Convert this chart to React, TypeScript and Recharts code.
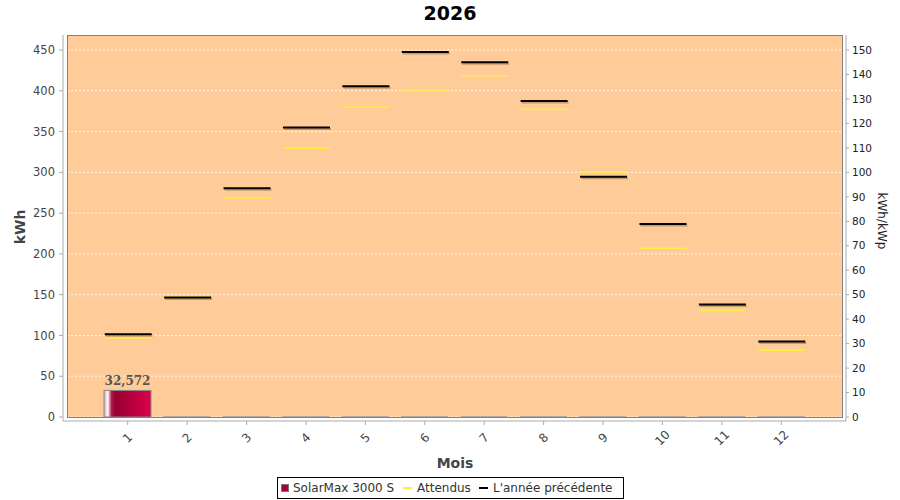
import React from 'react';
import { ComposedChart, Bar, Line, XAxis, YAxis, CartesianGrid, LabelList } from 'recharts';

const months = ['1', '2', '3', '4', '5', '6', '7', '8', '9', '10', '11', '12'];
const production = [32.572, 0, 0, 0, 0, 0, 0, 0, 0, 0, 0, 0];
const expected = [97, 148, 268.5, 329.5, 380, 401, 418.5, 377.5, 300.5, 207, 130.5, 82];
const previousYear = [101.5, 146.5, 280.5, 355, 405.5, 447.5, 435, 387.5, 294.5, 236.5, 138, 92.5];
const leftTicks = [0, 50, 100, 150, 200, 250, 300, 350, 400, 450];
const rightTicks = [0, 10, 20, 30, 40, 50, 60, 70, 80, 90, 100, 110, 120, 130, 140, 150];

const data = months.map((m, i) => ({
  month: m,
  prod: production[i],
  expected: expected[i],
  prev: previousYear[i],
}));

const FONT = '"DejaVu Sans", sans-serif';

const makeMarker = (color: string, sw: number, shadow: boolean) => (props: any) => {
  const { cx, cy, index } = props;
  if (cx == null || cy == null) return <g key={`e-${index}`} />;
  const l = cx - 23;
  const r = cx + 24;
  return (
    <g key={`m-${color}-${index}`}>
      {shadow && (
        <line x1={l + 1} x2={r + 1} y1={cy + 1.5} y2={cy + 1.5} stroke="rgba(80,40,0,0.3)" strokeWidth={sw} />
      )}
      <line x1={l} x2={r} y1={cy} y2={cy} stroke={color} strokeWidth={sw} />
    </g>
  );
};

const BarShape = (props: any) => {
  const { x, y, width, height } = props;
  if (!height || height <= 0.5) {
    return <line x1={x} x2={x + width} y1={y + (height || 0)} y2={y + (height || 0)} stroke="#9a9a9a" strokeWidth={1.5} />;
  }
  return (
    <rect x={x} y={y} width={width} height={height} fill="url(#prodGrad)" stroke="#8a8a8a" strokeWidth={1} />
  );
};

const XTick = (props: any) => {
  const { x, y, payload } = props;
  return (
    <text
      transform={`translate(${x},${y + 11}) rotate(-45)`}
      textAnchor="middle"
      dominantBaseline="central"
      fontSize={12}
      fill="#444"
      fontFamily={FONT}
    >
      {payload.value}
    </text>
  );
};

const BarLabel = (props: any) => {
  const { x, y, width, value } = props;
  if (!value) return null;
  return (
    <text
      x={x + width / 2}
      y={y - 5}
      textAnchor="middle"
      fontSize={12}
      fontWeight="bold"
      fill="#555"
      fontFamily='"DejaVu Serif", serif'
    >
      {Number(value).toFixed(3).replace('.', ',')}
    </text>
  );
};

export default function App() {
  return (
    <div style={{ position: 'absolute', left: 0, top: 0, width: 900, height: 500, background: '#fff', fontFamily: FONT, overflow: 'hidden' }}>
      <div
        style={{
          position: 'absolute', left: 67, top: 35, width: 776, height: 383,
          boxSizing: 'border-box', background: '#FFCC99',
        }}
      />
      <div style={{ position: 'absolute', left: 0, top: 0, width: 900, height: 26, lineHeight: '26px', textAlign: 'center', fontSize: 19, fontWeight: 'bold', color: '#000' }}>
        2026
      </div>
      <div style={{ position: 'absolute', left: 0, top: 0 }}>
        <ComposedChart width={900} height={500} data={data} margin={{ top: 35, right: 0, bottom: 0, left: 0 }}>
          <defs>
            <linearGradient id="prodGrad" x1="0" y1="0" x2="1" y2="0">
              <stop offset="0" stopColor="#d8a0b0" />
              <stop offset="0.08" stopColor="#ffffff" />
              <stop offset="0.16" stopColor="#b01848" />
              <stop offset="0.24" stopColor="#960032" />
              <stop offset="1" stopColor="#dc004a" />
            </linearGradient>
          </defs>
          <CartesianGrid horizontal vertical={false} stroke="#ffffff" strokeOpacity={0.85} strokeDasharray="2 2" />
          <XAxis
            dataKey="month"
            interval={0}
            padding={{ left: 35, right: 35 }}
            height={79}
            tickSize={4}
            stroke="#aaaaaa"
            tick={<XTick />}
          />
          <YAxis
            domain={[0, 468.4]}
            ticks={leftTicks}
            allowDataOverflow
            padding={{ top: 0, bottom: 4 }}
            width={63}
            tickSize={4}
            tickMargin={4}
            stroke="#aaaaaa"
            tick={{ fill: '#444', fontSize: 11.5, fontFamily: FONT }}
          />
          <YAxis
            yAxisId="right"
            orientation="right"
            domain={[0, 156.13]}
            ticks={rightTicks}
            allowDataOverflow
            padding={{ top: 0, bottom: 4 }}
            width={54}
            tickSize={3}
            tickMargin={3}
            stroke="#aaaaaa"
            tick={{ fill: '#222', fontSize: 10.5, fontFamily: FONT }}
          />
          <Bar dataKey="prod" barSize={47} isAnimationActive={false} shape={<BarShape />}>
            <LabelList dataKey="prod" content={<BarLabel />} />
          </Bar>
          <Line dataKey="expected" stroke="none" isAnimationActive={false} activeDot={false} dot={makeMarker('#ffee44', 1.5, false)} />
          <Line dataKey="prev" stroke="none" isAnimationActive={false} activeDot={false} dot={makeMarker('#000000', 2, true)} />
        </ComposedChart>
      </div>
      <div
        style={{
          position: 'absolute', left: 67, top: 35, width: 776, height: 383,
          boxSizing: 'border-box', border: '1px solid #808080', pointerEvents: 'none',
        }}
      />
      <div style={{ position: 'absolute', left: 20, top: 227, transform: 'translate(-50%,-50%) rotate(-90deg)', fontSize: 14, fontWeight: 'bold', color: '#444', whiteSpace: 'nowrap' }}>
        kWh
      </div>
      <div style={{ position: 'absolute', left: 882, top: 221, transform: 'translate(-50%,-50%) rotate(90deg)', fontSize: 12, color: '#222', whiteSpace: 'nowrap' }}>
        kWh/kWp
      </div>
      <div style={{ position: 'absolute', left: 455, top: 463, transform: 'translate(-50%,-50%)', fontSize: 14, fontWeight: 'bold', color: '#444', whiteSpace: 'nowrap' }}>
        Mois
      </div>
      <div style={{ position: 'absolute', left: 277, top: 477, width: 347, height: 22, boxSizing: 'border-box', border: '1px solid #000', background: '#fff', fontSize: 12, color: '#333' }}>
        <div style={{ position: 'absolute', left: 3, top: 6, width: 8, height: 8, boxSizing: 'border-box', background: '#a8003c', border: '1px solid #777' }} />
        <div style={{ position: 'absolute', left: 15, top: 0, lineHeight: '20px', whiteSpace: 'nowrap' }}>SolarMax 3000 S</div>
        <div style={{ position: 'absolute', left: 125, top: 9, width: 9, height: 2, background: '#ffee44' }} />
        <div style={{ position: 'absolute', left: 139, top: 0, lineHeight: '20px', whiteSpace: 'nowrap' }}>Attendus</div>
        <div style={{ position: 'absolute', left: 201, top: 9, width: 9, height: 2, background: '#000' }} />
        <div style={{ position: 'absolute', left: 215, top: 0, lineHeight: '20px', whiteSpace: 'nowrap' }}>L'année précédente</div>
      </div>
    </div>
  );
}
